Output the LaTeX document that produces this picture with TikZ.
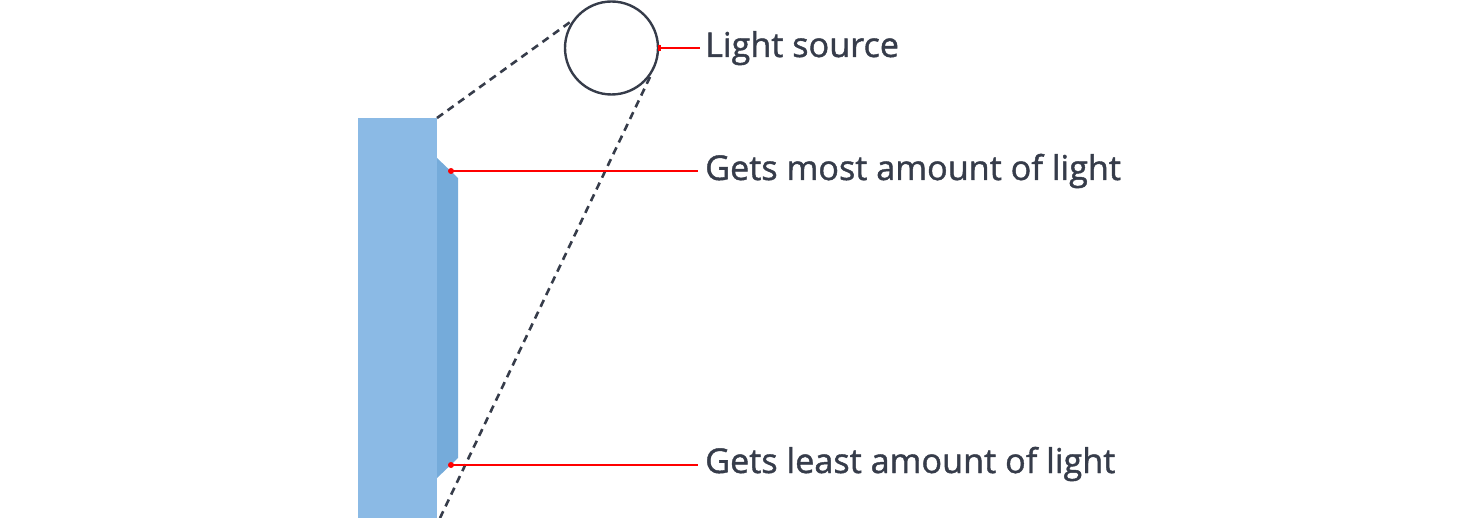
\documentclass[tikz,border=0pt]{standalone}
\usepackage{fontspec}
\setmainfont{Open Sans}
\newfontfamily\labfont{Open Sans}[RawFeature={embolden=1.2}]
\definecolor{txt}{HTML}{363C4A}
\definecolor{panel}{HTML}{8BBAE5}
\definecolor{panelside}{HTML}{75ABDA}
\definecolor{lead}{HTML}{FF0000}
\begin{document}
\begin{tikzpicture}[x=1pt,y=-1pt,
  label/.style={anchor=base west,inner sep=0pt,text=txt,font=\labfont\fontsize{34.2}{40}\selectfont},
  leader/.style={draw=lead,line width=2pt},
  ray/.style={draw=txt,line width=2.6pt,dash pattern=on 7.5pt off 5.5pt}]
\useasboundingbox (0,0) rectangle (1480,518);
% panel
\fill[panel] (358,118) rectangle (437,518);
\fill[panelside] (437,158) -- (458,178) -- (458,458) -- (437,478) -- cycle;
% light source
\node[draw=txt,line width=2.4pt,circle,minimum size=93pt,inner sep=0pt] (src) at (611.5,48) {};
% rays
\coordinate (c1) at (437,118);
\coordinate (t1) at (573,20);
\coordinate (t2) at (650,77);
\coordinate (c2) at (440,518);
\draw[ray] (c1) -- (t1);
\draw[ray] (t2) -- (c2);
% labels
\node[label] (l1) at (705,57) {Light source};
\node[label] (l2) at (705,180) {Gets most amount of light};
\node[label] (l3) at (705,473) {Gets least amount of light};
% leaders
\coordinate (p1) at (659,48);
\coordinate (p2) at (451,171);
\coordinate (p3) at (451,465);
\draw[leader] (p1) -- (700,48);
\draw[leader] (p2) -- (698,171);
\draw[leader] (p3) -- (698,465);
\fill[lead] (p1) ++(-1,-3) rectangle ++(3,6);
\fill[lead] (p2) circle (3pt);
\fill[lead] (p3) circle (3pt);
\end{tikzpicture}
\end{document}
